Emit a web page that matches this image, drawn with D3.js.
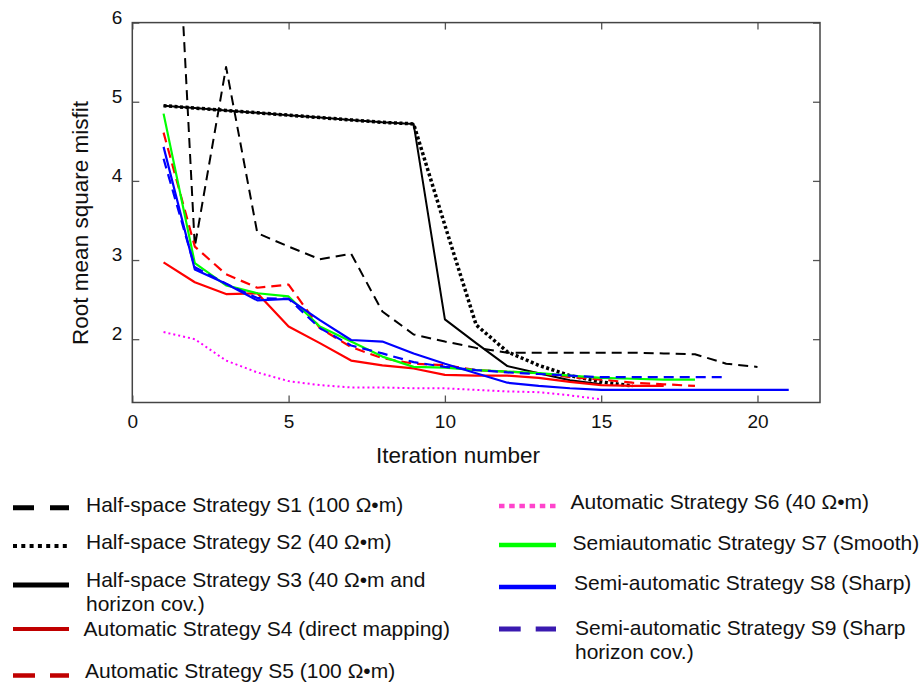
<!DOCTYPE html>
<html>
<head>
<meta charset="utf-8">
<script src="https://cdn.jsdelivr.net/npm/d3@7"></script>
<style>
  body { margin: 0; background: #fff; }
  svg { font-family: Arial, "Liberation Sans", sans-serif; }
</style>
</head>
<body>
<svg id="chart" width="924" height="682"></svg>
<script>
// iteration -> RMS misfit (first iteration = 1)
const s1 = [10.8, 3.17, 5.44, 3.34, 3.17, 3.01, 3.08, 2.35, 2.06, 1.97, 1.89, 1.83, 1.83, 1.83, 1.83, 1.83, 1.82, 1.81, 1.69, 1.65];
const s2 = [4.95, 4.92, 4.89, 4.86, 4.83, 4.80, 4.77, 4.74, 4.72, 3.44, 2.18, 1.84, 1.67, 1.54, 1.46, 1.41];
const s3 = [4.95, 4.92, 4.89, 4.86, 4.83, 4.80, 4.77, 4.74, 4.72, 2.25, 1.95, 1.66, 1.57, 1.48, 1.43];
const s4 = [2.97, 2.72, 2.57, 2.58, 2.16, 1.95, 1.73, 1.67, 1.63, 1.55, 1.54, 1.54, 1.51, 1.46, 1.42, 1.41, 1.41];
const s5 = [4.61, 3.17, 2.82, 2.65, 2.69, 2.14, 1.90, 1.76, 1.69, 1.67, 1.61, 1.59, 1.57, 1.52, 1.49, 1.45, 1.43, 1.41];
const s6 = [2.09, 2.00, 1.73, 1.58, 1.47, 1.42, 1.39, 1.39, 1.38, 1.38, 1.36, 1.34, 1.33, 1.29, 1.24];
const s7 = [4.85, 2.96, 2.68, 2.58, 2.54, 2.16, 1.97, 1.78, 1.65, 1.64, 1.61, 1.59, 1.57, 1.54, 1.51, 1.50, 1.49, 1.49];
const s8 = [4.43, 2.88, 2.70, 2.49, 2.51, 2.24, 1.99, 1.97, 1.82, 1.69, 1.57, 1.45, 1.41, 1.38, 1.36, 1.36, 1.36, 1.36, 1.36, 1.36, 1.36];
const s9 = [4.28, 2.91, 2.70, 2.52, 2.51, 2.14, 1.92, 1.82, 1.71, 1.65, 1.61, 1.58, 1.56, 1.54, 1.52, 1.52, 1.52, 1.52, 1.52];

const xTicks = [0, 5, 10, 15, 20];
const yTicks = [2, 3, 4, 5, 6];

const series = [
  { name: 'S1', values: s1, color: '#000', width: 2, dash: '10,6' },
  { name: 'S2', values: s2, color: '#000', width: 3.5, dash: '3,2.5' },
  { name: 'S3', values: s3, color: '#000', width: 2, dash: null },
  { name: 'S4', values: s4, color: '#ff0000', width: 2.2, dash: null },
  { name: 'S5', values: s5, color: '#ff0000', width: 2.2, dash: '10,6' },
  { name: 'S6', values: s6, color: '#ff00ff', width: 2, dash: '2,3' },
  { name: 'S7', values: s7, color: '#00ff00', width: 2.2, dash: null },
  { name: 'S8', values: s8, color: '#0000ff', width: 2.2, dash: null },
  { name: 'S9', values: s9, color: '#0000ff', width: 2.2, dash: '10,6' }
];

// legend entries: text lines, sample colour, dash, width
const legendLeft = [
  { text: ['Half-space Strategy S1 (100 Ω•m)'], color: '#000', dash: '21,16', width: 5 },
  { text: ['Half-space Strategy S2 (40 Ω•m)'], color: '#000', dash: '4,4.3', width: 4 },
  { text: ['Half-space Strategy S3 (40 Ω•m and', 'horizon cov.)'], color: '#000', dash: null, width: 5 },
  { text: ['Automatic Strategy S4 (direct mapping)'], color: '#c00000', dash: null, width: 4 },
  { text: ['Automatic Strategy S5 (100 Ω•m)'], color: '#c00000', dash: '22,15', width: 4.5 }
];
const legendRight = [
  { text: ['Automatic Strategy S6 (40 Ω•m)'], color: '#ff44cc', dash: '5.5,4.7', width: 4.5 },
  { text: ['Semiautomatic Strategy S7 (Smooth)'], color: '#00ff00', dash: null, width: 4.5 },
  { text: ['Semi-automatic Strategy S8 (Sharp)'], color: '#0000ff', dash: null, width: 4.5 },
  { text: ['Semi-automatic Strategy S9 (Sharp', 'horizon cov.)'], color: '#3a1ab0', dash: '21.7,15', width: 5 }
];

const svg = d3.select('#chart');
const plotL = 132.3, plotR = 820, plotT = 22.6, plotB = 402.5;

const x = d3.scaleLinear().domain([0, 22]).range([plotL, plotR]);
const y = d3.scaleLinear().domain([1.2, 6]).range([plotB, plotT]);

svg.append('clipPath').attr('id', 'plot-clip')
  .append('rect')
  .attr('x', plotL).attr('y', plotT)
  .attr('width', plotR - plotL).attr('height', plotB - plotT);

// axes with inward ticks on all four sides
svg.append('g')
  .attr('transform', `translate(0,${plotB})`)
  .call(d3.axisBottom(x).tickValues(xTicks).tickSize(-7).tickPadding(12).tickFormat(d3.format('d')))
  .call(g => g.select('.domain').remove());

svg.append('g')
  .attr('transform', `translate(0,${plotT})`)
  .call(d3.axisTop(x).tickValues(xTicks).tickSize(-7).tickFormat(''))
  .call(g => g.select('.domain').remove());

svg.append('g')
  .attr('transform', `translate(${plotL},0)`)
  .call(d3.axisLeft(y).tickValues(yTicks).tickSize(-7).tickPadding(10).tickFormat(d3.format('d')))
  .call(g => g.select('.domain').remove())
  .call(g => g.selectAll('text').attr('y', -5.5));

svg.append('g')
  .attr('transform', `translate(${plotR},0)`)
  .call(d3.axisRight(y).tickValues(yTicks).tickSize(-7).tickFormat(''))
  .call(g => g.select('.domain').remove());

svg.selectAll('.tick line').attr('stroke', '#555').attr('stroke-width', 1.3);
svg.selectAll('.tick text')
  .attr('font-size', 19)
  .attr('font-family', 'Arial, "Liberation Sans", sans-serif')
  .attr('fill', '#111');

// data lines
const line = d3.line()
  .x((d, i) => x(i + 1))
  .y(d => y(d));

svg.append('g')
  .attr('clip-path', 'url(#plot-clip)')
  .selectAll('path')
  .data(series)
  .enter()
  .append('path')
  .attr('fill', 'none')
  .attr('stroke', d => d.color)
  .attr('stroke-width', d => d.width)
  .attr('stroke-dasharray', d => d.dash)
  .attr('stroke-linejoin', 'round')
  .attr('d', d => line(d.values));

// frame
svg.append('rect')
  .attr('x', plotL).attr('y', plotT)
  .attr('width', plotR - plotL).attr('height', plotB - plotT)
  .attr('fill', 'none')
  .attr('stroke', '#444')
  .attr('stroke-width', 1.5);

// axis titles
svg.append('text')
  .attr('x', 458).attr('y', 463)
  .attr('text-anchor', 'middle')
  .attr('font-size', 22.5)
  .attr('fill', '#111')
  .text('Iteration number');

svg.append('text')
  .attr('transform', 'translate(88,223) rotate(-90)')
  .attr('text-anchor', 'middle')
  .attr('font-size', 22.5)
  .attr('fill', '#111')
  .text('Root mean square misfit');

// legend
function drawLegend(items, rows, lineX0, lineX1) {
  const g = svg.append('g').attr('class', 'legend');
  items.forEach((item, i) => {
    const r = rows[i];
    g.append('line')
      .attr('x1', lineX0).attr('x2', lineX1)
      .attr('y1', r.line).attr('y2', r.line)
      .attr('stroke', item.color)
      .attr('stroke-width', item.width)
      .attr('stroke-dasharray', item.dash);
    item.text.forEach((t, k) => {
      g.append('text')
        .attr('x', r.tx).attr('y', r.text + k * 23.5)
        .attr('dy', '0.35em')
        .attr('font-size', 21)
        .attr('fill', '#111')
        .text(t);
    });
  });
}

drawLegend(legendLeft,
  [{ line: 507.7, text: 505, tx: 86 }, { line: 546, text: 542, tx: 86 },
   { line: 585, text: 580, tx: 86 }, { line: 629, text: 629, tx: 83.5 },
   { line: 675.5, text: 671, tx: 85 }],
  13, 69);

drawLegend(legendRight,
  [{ line: 506, text: 502, tx: 570.5 }, { line: 545, text: 543, tx: 572.5 },
   { line: 587, text: 583, tx: 574 }, { line: 629, text: 628, tx: 575 }],
  499, 556);
</script>
</body>
</html>
